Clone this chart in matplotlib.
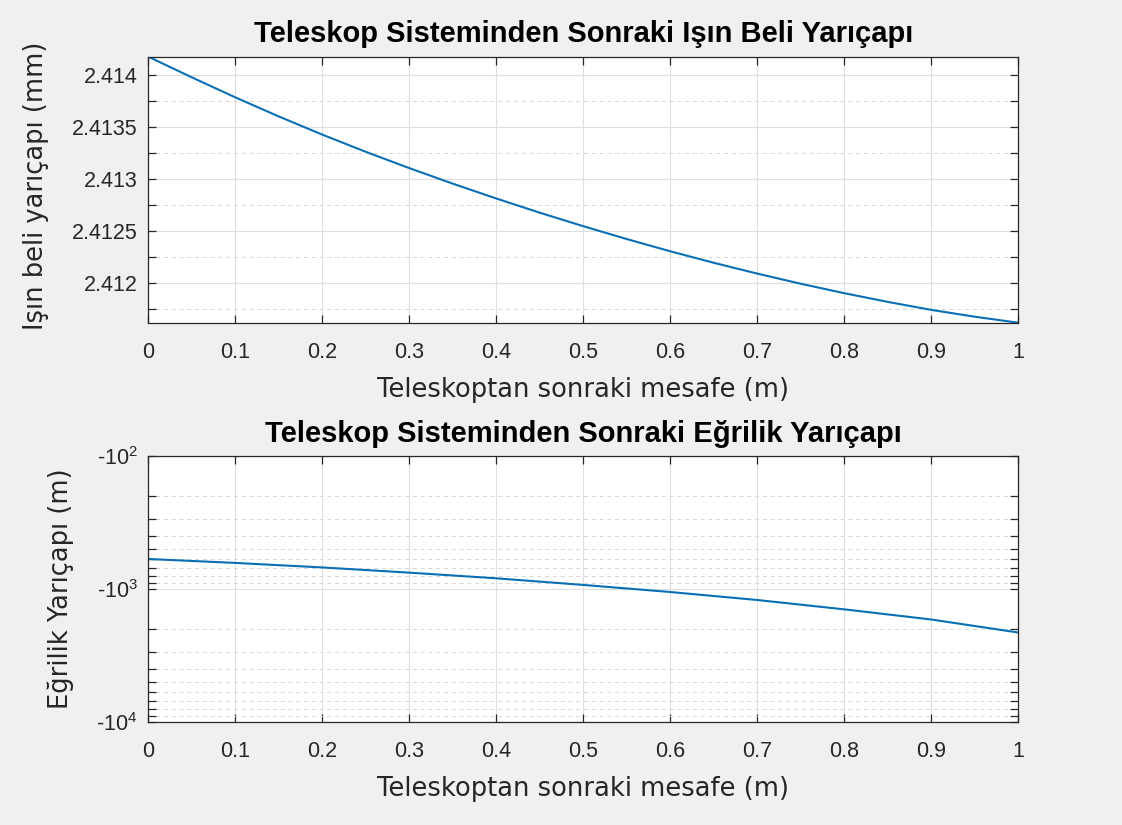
import math
import matplotlib
matplotlib.use("Agg")
import matplotlib.pyplot as plt
from matplotlib.ticker import FixedLocator, MultipleLocator, LogLocator, NullFormatter, FuncFormatter

plt.rcParams['font.family'] = ['Liberation Sans', 'DejaVu Sans']
plt.rcParams['mathtext.fontset'] = 'custom'
plt.rcParams['mathtext.rm'] = 'Liberation Sans'
plt.rcParams['mathtext.it'] = 'Liberation Sans:italic'
plt.rcParams['mathtext.bf'] = 'Liberation Sans:bold'

# Distance after the telescope (m)
distance = [0.00, 0.05, 0.10, 0.15, 0.20, 0.25, 0.30, 0.35, 0.40, 0.45, 0.50,
            0.55, 0.60, 0.65, 0.70, 0.75, 0.80, 0.85, 0.90, 0.95, 1.00]
# Beam waist radius (mm)
waist_radius = [2.414179, 2.413980, 2.413787, 2.413603, 2.413428, 2.413262, 2.413105,
                2.412955, 2.412812, 2.412675, 2.412545, 2.412421, 2.412303, 2.412192,
                2.412088, 2.411990, 2.411899, 2.411815, 2.411738, 2.411672, 2.411614]

# Radius of curvature (m); negative values: converging wavefront
curv_distance = [0.0, 0.1, 0.2, 0.3, 0.4, 0.5, 0.6, 0.7, 0.8, 0.9, 1.0]
curvature_radius = [-596, -638, -690, -755, -833, -934, -1056, -1213, -1426, -1700, -2130]

waist_ticks = [2.412, 2.4125, 2.413, 2.4135, 2.414]
waist_tick_labels = ['2.412', '2.4125', '2.413', '2.4135', '2.414']
x_ticks = [0, 0.1, 0.2, 0.3, 0.4, 0.5, 0.6, 0.7, 0.8, 0.9, 1]
x_tick_labels = ['0', '0.1', '0.2', '0.3', '0.4', '0.5', '0.6', '0.7', '0.8', '0.9', '1']

title_top = 'Teleskop Sisteminden Sonraki Işın Beli Yarıçapı'
title_bottom = 'Teleskop Sisteminden Sonraki Eğrilik Yarıçapı'
x_label = 'Teleskoptan sonraki mesafe (m)'
y_label_top = 'Işın beli yarıçapı (mm)'
y_label_bottom = 'Eğrilik Yarıçapı (m)'

LINE = '#0a6fb5'
INK = '#262626'
BG = '#f0f0f0'
LABEL_FONT = ['DejaVu Sans']

fig = plt.figure(figsize=(11.22, 8.25), dpi=100, facecolor=BG)
W, H = 1122, 825
ax1 = fig.add_axes([148.3 / W, 1 - 322.7 / H, 869.7 / W, 266 / H])
ax2 = fig.add_axes([148.3 / W, 1 - 721.7 / H, 869.7 / W, 265.7 / H])


def style(ax):
    ax.set_facecolor('white')
    for s in ax.spines.values():
        s.set_color(INK)
        s.set_linewidth(0.9)
    ax.tick_params(which='both', direction='in', top=True, right=True,
                   colors=INK, labelcolor=INK, labelsize=15.5, width=0.9, length=5.8)
    ax.tick_params(axis='x', which='major', pad=14)
    ax.tick_params(axis='y', which='both', pad=7.8)
    ax.tick_params(axis='x', which='minor', length=0)
    ax.grid(True, which='major', color='#dedede', linewidth=0.8)
    ax.grid(True, which='minor', axis='y', color='#d6d6d6', linewidth=0.7,
            linestyle=(0, (4, 4)))
    ax.set_axisbelow(True)
    ax.set_xlabel(x_label, fontsize=18.5, family=LABEL_FONT, color=INK, va='baseline')
    ax.xaxis.set_label_coords(0.5, -74.5 / 266)


# Top panel: beam waist radius
ax1.plot(distance, waist_radius, color=LINE, linewidth=1.5)
ax1.set_xlim(0, 1)
ax1.set_ylim(min(waist_radius), max(waist_radius))
ax1.xaxis.set_major_locator(FixedLocator(x_ticks))
ax1.set_xticklabels(x_tick_labels)
ax1.yaxis.set_major_locator(FixedLocator(waist_ticks))
ax1.set_yticklabels(waist_tick_labels)
ax1.yaxis.set_minor_locator(MultipleLocator(0.00025))
style(ax1)
ax1.set_title(title_top, fontsize=21, fontweight='bold', color='black', pad=10.6)
ax1.set_ylabel(y_label_top, fontsize=18.5, family=LABEL_FONT, color=INK, va='center')
ax1.yaxis.set_label_coords((36 - 148.3) / 869.7, 0.516)

# Bottom panel: radius of curvature on a logarithmic magnitude axis
magnitude = [-v for v in curvature_radius]
ax2.plot(curv_distance, magnitude, color=LINE, linewidth=1.5)
ax2.set_yscale('log')
ax2.set_xlim(0, 1)
ax2.set_ylim(1e4, 1e2)
ax2.xaxis.set_major_locator(FixedLocator(x_ticks))
ax2.set_xticklabels(x_tick_labels)
ax2.yaxis.set_major_locator(LogLocator(base=10, numticks=10))
ax2.yaxis.set_minor_locator(LogLocator(base=10, subs=range(2, 10), numticks=20))
ax2.yaxis.set_major_formatter(FuncFormatter(lambda v, p: '-$10^{%d}$' % round(math.log10(v))))
ax2.yaxis.set_minor_formatter(NullFormatter())
style(ax2)
ax2.set_title(title_bottom, fontsize=21, fontweight='bold', color='black', pad=10.3)
ax2.set_ylabel(y_label_bottom, fontsize=18.5, family=LABEL_FONT, color=INK, va='center')
ax2.yaxis.set_label_coords((61 - 148.3) / 869.7, 0.5)

fig.savefig('out.png', dpi=100, facecolor=BG)
